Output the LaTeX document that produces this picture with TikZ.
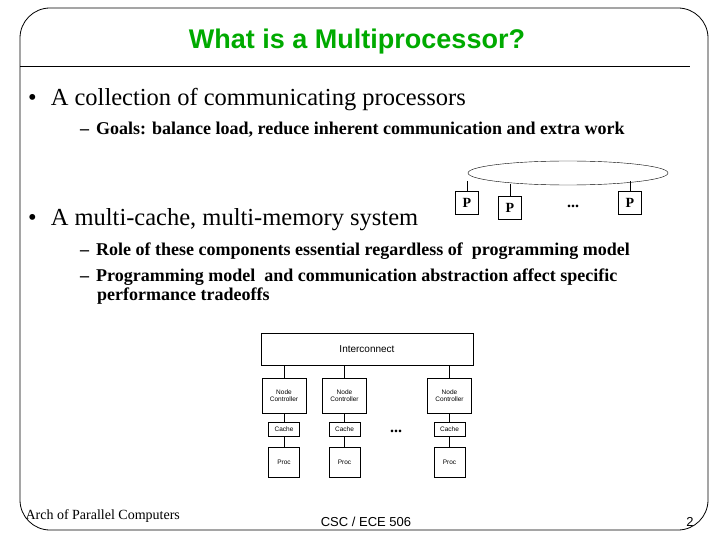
\documentclass[tikz,border=0pt]{standalone}
\usepackage{fontspec}
\usetikzlibrary{shapes.geometric}
\setmainfont{Liberation Serif}
\setsansfont{Liberation Sans}
\begin{document}
\begin{tikzpicture}[x=1pt,y=-1pt,
  box/.style={draw,thick,fill=white,inner sep=0pt,font=\sffamily\fontsize{6.5}{7.5}\selectfont,align=center},
  pbox/.style={draw,thin,minimum width=23pt,minimum height=23pt,inner sep=0pt,font=\bfseries\fontsize{14}{15}\selectfont},
  bul/.style={anchor=west,font=\fontsize{24.5}{26}\selectfont,inner sep=0pt},
  sub/.style={anchor=west,font=\bfseries\fontsize{18}{20}\selectfont,inner sep=0pt,align=left}]
\useasboundingbox (0,0) rectangle (720,540);
\draw[thick,rounded corners=30pt] (20,8) rectangle (708,530);
\draw[thick] (20,66) -- (690,66);
\node[font=\sffamily\bfseries\fontsize{27}{29}\selectfont,text={rgb,255:red,0;green,170;blue,0}] (title) at (357,42) {What is a Multiprocessor?};
\node[bul] (b1) at (28,100) {\textbullet\hspace{14pt}A collection of communicating processors};
\node[sub] (s1) at (80,130) {–\hspace{7pt}Goals: balance load, reduce inherent communication and extra work};
\node[bul] (b2) at (28,220) {\textbullet\hspace{14pt}A multi-cache, multi-memory system};
\node[sub] (s2) at (80,251) {–\hspace{7pt}Role of these components essential regardless of\ \ programming model};
\node[sub] (s3) at (80,277) {–\hspace{7pt}Programming model\ \ and communication abstraction affect specific};
\node[sub] (s4) at (97,296) {performance tradeoffs};
% ring
\node[draw,thin,ellipse,minimum width=200pt,minimum height=24pt] (ring) at (568,173) {};
\node[pbox] (p1) at (467,203) {P};
\node[pbox] (p2) at (510,208) {P};
\node[pbox] (p3) at (630,203) {P};
\node[font=\bfseries\fontsize{16}{16}\selectfont] (pd) at (573,206) {...};
\coordinate (r1) at (467,181); \coordinate (r2) at (510,184); \coordinate (r3) at (630,181);
\draw (p1.north) -- (r1); \draw (p2.north) -- (r2); \draw (p3.north) -- (r3);
% bottom diagram
\node[box,minimum width=212pt,minimum height=32pt,font=\sffamily\fontsize{10}{11}\selectfont] (ic) at (367,349) {Interconnect};
\foreach \i/\x in {1/284,2/344.5,3/449.5}{
  \node[box,minimum width=44pt,minimum height=35pt] (nc\i) at (\x,395.5) {Node\\Controller};
  \node[box,minimum width=31pt,minimum height=14pt] (c\i) at (\x,429) {Cache};
  \node[box,minimum width=31pt,minimum height=30pt] (pr\i) at (\x,462) {Proc};
  \draw[thick] (nc\i.north) -- (nc\i.north |- ic.south);
  \draw[thick] (nc\i) -- (c\i);
  \draw[thick] (c\i) -- (pr\i);
}
\node[font=\bfseries\fontsize{16}{16}\selectfont] (bd) at (396,431) {...};
% footer
\node[anchor=west,font=\fontsize{14}{16}\selectfont] (f1) at (22,516) {Arch of Parallel Computers};
\node[font=\sffamily\fontsize{13}{15}\selectfont] (f2) at (366,522) {CSC / ECE 506};
\node[font=\sffamily\fontsize{13}{15}\selectfont] (f3) at (690,522) {2};
\end{tikzpicture}
\end{document}
